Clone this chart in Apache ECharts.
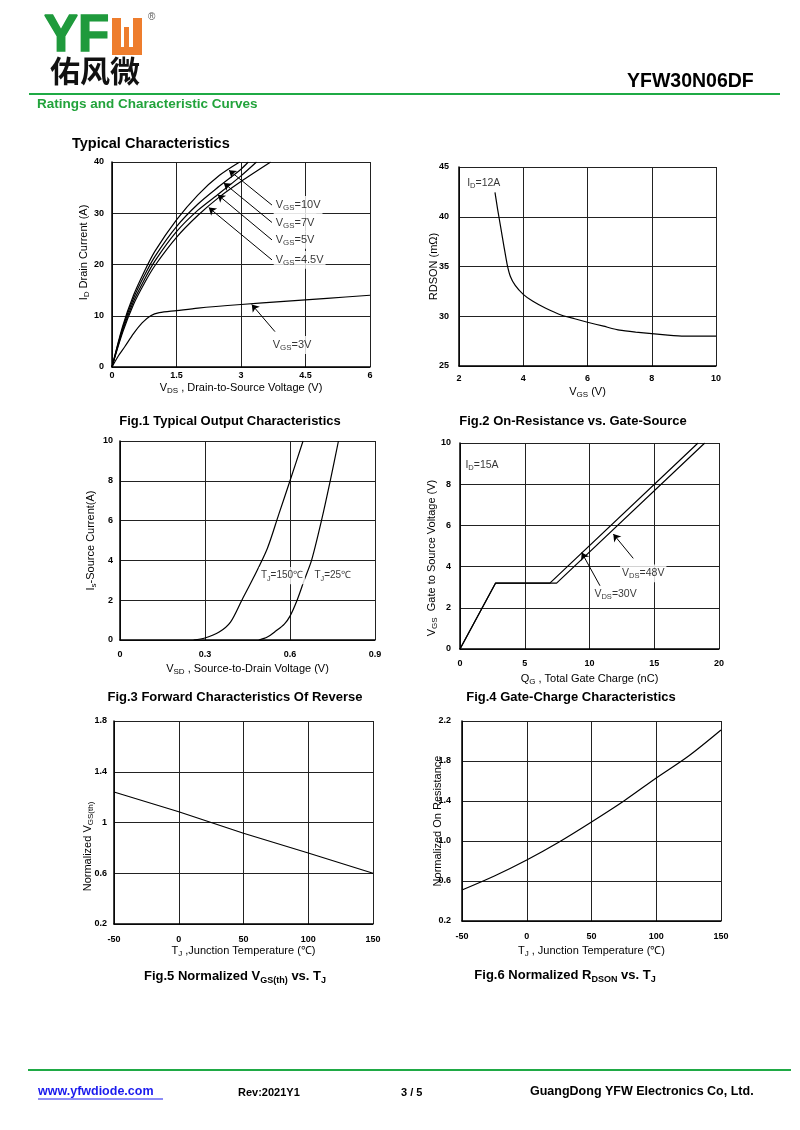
<!DOCTYPE html>
<html><head><meta charset="utf-8">
<script src="https://cdn.jsdelivr.net/npm/echarts@6/dist/echarts.min.js"></script>
<style>html,body{margin:0;padding:0;background:#fff}#c{width:800px;height:1130px}</style>
</head><body><div id="c"></div>
<script>
// ---------- Fig.1 Typical Output Characteristics (VDS [V], ID [A]) ----------
const f1Vgs10 = [[0,0],[0.25,8],[0.5,14],[0.75,18.6],[1,22.6],[1.5,28.7],[2,33.6],[2.5,37.4],[2.97,40]];
const f1Vgs7  = [[0,0],[0.25,7.6],[0.5,13.4],[0.75,17.8],[1,21.6],[1.5,27.4],[2,31.8],[2.5,35.3],[3,38.6],[3.17,40]];
const f1Vgs5  = [[0,0],[0.25,7.2],[0.5,12.8],[0.75,17],[1,20.7],[1.5,26.4],[2,30.6],[2.5,33.9],[3,37.3],[3.36,40]];
const f1Vgs45 = [[0,0],[0.25,6.8],[0.5,12.2],[0.75,16.3],[1,19.8],[1.5,25.3],[2,29.6],[2.5,33.2],[3,36.2],[3.69,40]];
const f1Vgs3  = [[0,0],[0.15,2.2],[0.3,4.0],[0.5,6.5],[0.7,8.6],[0.9,10],[1.1,10.6],[1.5,11],[2,11.5],[3,12.2],[4,12.8],[5,13.4],[6,14]];
const f1Labels = ['V{s|GS}=10V','V{s|GS}=7V','V{s|GS}=5V','V{s|GS}=4.5V','V{s|GS}=3V'];
const f1LabelPos = [[3.76,31.6],[3.76,28.2],[3.76,24.8],[3.76,20.9],[3.69,4.3]];
const f1Arrows = [[[3.72,31.6],[2.72,38.4]],[[3.72,28.2],[2.6,35.9]],[[3.72,24.8],[2.46,33.6]],[[3.72,20.9],[2.25,31.1]],[[3.79,6.9],[3.25,12.2]]];

// ---------- Fig.2 On-Resistance vs Gate-Source (VGS [V], RDSON [mΩ]) ----------
const f2Rdson = [[3.12,42.45],[3.2,40.8],[3.3,38.9],[3.4,37.0],[3.5,35.2],[3.6,34.0],[3.75,33.1],[4.0,32.2],[4.3,31.5],[4.7,30.8],[5.2,30.1],[5.6,29.75],[6,29.4],[6.5,29.0],[7,28.6],[7.5,28.4],[8,28.25],[8.5,28.1],[9,28.0],[10,28.0]];

// ---------- Fig.3 Forward Characteristics (VSD [V], IS [A]) ----------
const f3Tj150 = [[0.26,0],[0.30,0.1],[0.35,0.4],[0.39,0.9],[0.43,2.0],[0.47,3.1],[0.52,4.6],[0.56,6.3],[0.60,8.0],[0.646,10]];
const f3Tj25  = [[0.49,0],[0.52,0.15],[0.55,0.45],[0.58,0.8],[0.60,1.2],[0.625,2.0],[0.65,3.0],[0.676,4.0],[0.711,6.0],[0.742,8.0],[0.771,10]];

// ---------- Fig.4 Gate charge (QG [nC], VGS [V]) ----------
const f4Vds30 = [[0,0],[2.75,3.2],[6.94,3.2],[18.38,10]];
const f4Vds48 = [[0,0],[2.75,3.2],[7.46,3.2],[18.9,10]];
const f4Arrows = [[[13.38,4.40],[11.84,5.58]],[[10.81,3.07],[9.4,4.68]]];

// ---------- Fig.5 Normalized VGS(th) vs TJ ----------
const f5Vth = [[-50,1.24],[0,1.085],[25,1.0],[50,0.915],[100,0.76],[150,0.6]];

// ---------- Fig.6 Normalized RDSON vs TJ ----------
const f6Rds = [[-50,0.51],[-25,0.65],[0,0.81],[25,0.99],[50,1.19],[75,1.40],[100,1.63],[125,1.85],[150,2.11]];

// axis ranges [min, max, interval]
const xRanges = [[0,6,1.5],[2,10,2],[0,0.9,0.3],[0,20,5],[-50,150,50],[-50,150,50]];
const yRanges = [[0,40,10],[25,45,5],[0,10,2],[0,10,2],[0.2,1.8,0.4],[0.2,2.2,0.4]];

const FF = 'Liberation Sans, Arial, sans-serif';
const subRich = (fs) => ({ s: { fontSize: fs, fontFamily: FF, color: '#000', verticalAlign: 'bottom', lineHeight: fs + 6 } });

const grids = [
  {left:112, top:162, width:258, height:205},
  {left:459, top:167, width:257, height:199},
  {left:120, top:441, width:255, height:199},
  {left:460, top:443, width:259, height:206},
  {left:114, top:721, width:259, height:203},
  {left:462, top:721, width:259, height:200}
];
const xNames = ['V{s|DS} , Drain-to-Source Voltage (V)','V{s|GS} (V)','V{s|SD} , Source-to-Drain Voltage (V)','Q{s|G} , Total Gate Charge (nC)','T{s|J} ,Junction Temperature (℃)','T{s|J} , Junction Temperature (℃)'];
const yNames = ['I{s|D} Drain Current (A)','RDSON (mΩ)','I{s|s}-Source Current(A)','V{s|GS}  Gate to Source Voltage (V)','Normalized V{s|GS(th)}','Normalized On Resistance'];
const xLabelMargin = [4,8,10,10,11,11];
const yLabelMargin = [8,10,7,9,7,11];
const xNameGap = [14,19,22,23,20,23];
const yNameGap = [21,20,22,21,19,19];
const yNamePad = [[0,0,0,24],[0,0,0,0],[0,0,0,0],[0,24,0,0],[0,48,0,0],[0,0,0,0]];

const xAxes = xRanges.map((r,i)=>({
  type:'value', gridIndex:i, min:r[0], max:r[1], interval:r[2],
  axisLine:{show:true,onZero:false,lineStyle:{color:'#000',width:1.5}},
  axisTick:{show:false},
  splitLine:{show:true,lineStyle:{color:'#222',width:1}},
  axisLabel:{color:'#000',fontSize:9,fontWeight:'bold',fontFamily:FF,margin:xLabelMargin[i]},
  name:xNames[i], nameLocation:'middle', nameGap:xNameGap[i], nameMoveOverlap:false,
  nameTextStyle:{color:'#000',fontSize:11,fontFamily:FF,rich:subRich(8)}
}));
const yAxes = yRanges.map((r,i)=>({
  type:'value', gridIndex:i, min:r[0], max:r[1], interval:r[2],
  axisLine:{show:true,onZero:false,lineStyle:{color:'#000',width:1.5}},
  axisTick:{show:false},
  splitLine:{show:true,lineStyle:{color:'#222',width:1}},
  axisLabel:{color:'#000',fontSize:9,fontWeight:'bold',fontFamily:FF,margin:yLabelMargin[i],
    formatter: i===5 ? (v)=>v.toFixed(1) : (v)=>String(+v.toFixed(2))},
  name:yNames[i], nameLocation:'middle', nameGap:yNameGap[i], nameRotate:90, nameMoveOverlap:false,
  nameTextStyle:{color:'#000',fontSize:11,fontFamily:FF,padding:yNamePad[i],rich:subRich(8)}
}));

function curve(gi, data, smooth){
  return {type:'line', xAxisIndex:gi, yAxisIndex:gi, data:data, symbol:'none', smooth:smooth,
    lineStyle:{color:'#000',width:1.2}, silent:true, z:3};
}
function note(gi, pos, text, bg, fs){
  fs = fs || 10.5;
  return {type:'scatter', xAxisIndex:gi, yAxisIndex:gi, data:[pos], symbolSize:0.1,
    itemStyle:{color:'transparent'}, silent:true, z:6,
    label:{show:true, position:'right', distance:0, formatter:text, color:'#000', fontSize:fs, fontFamily:FF,
      backgroundColor: bg ? '#fff' : 'transparent', padding:[2,2], rich:subRich(fs*0.72)}};
}
function arrows(gi, list){
  return {type:'lines', coordinateSystem:'cartesian2d', xAxisIndex:gi, yAxisIndex:gi,
    data:list.map(c=>({coords:c})), symbol:['none','arrow'], symbolSize:[0,7],
    lineStyle:{color:'#000',width:1,opacity:1,curveness:0}, silent:true, z:7};
}

const series = [
  curve(0,f1Vgs10,0.3), curve(0,f1Vgs7,0.3), curve(0,f1Vgs5,0.3), curve(0,f1Vgs45,0.3), curve(0,f1Vgs3,0.3),
  ...f1Labels.map((t,k)=>note(0,f1LabelPos[k],t,true,11)),
  arrows(0,f1Arrows),
  curve(1,f2Rdson,0.2),
  note(1,[2.19,43.4],'I{s|D}=12A',false),
  curve(2,f3Tj150,0.3), curve(2,f3Tj25,0.3),
  note(2,[0.49,3.23],'T{s|J}=150℃',true,10), note(2,[0.679,3.23],'T{s|J}=25℃',true,10),
  curve(3,f4Vds30,false), curve(3,f4Vds48,false),
  note(3,[0.26,8.93],'I{s|D}=15A',false),
  note(3,[12.36,3.67],'V{s|DS}=48V',true), note(3,[10.22,2.67],'V{s|DS}=30V',true),
  arrows(3,f4Arrows),
  curve(4,f5Vth,false),
  curve(5,f6Rds,0.3)
];

function txt(x,y,text,size,opt){
  opt = opt||{};
  return {type:'text', x:x, y:y, z:10, silent:true, style:{
    text:text, fontSize:size, fontWeight:opt.weight||'bold', fontFamily:opt.family||FF,
    fill:opt.fill||'#000', align:opt.align||'left', textAlign:opt.align||'left',
    stroke:opt.stroke, lineWidth:opt.lw||0,
    verticalAlign:'middle', textVerticalAlign:'middle', rich:opt.rich}};
}
const capRich = {s:{fontSize:9,fontWeight:'bold',fontFamily:FF,color:'#000',verticalAlign:'bottom',lineHeight:18}};
const graphics = [
  // logo
  txt(44,37,'YF',51,{fill:'#1f9a3c',stroke:'#1f9a3c',lw:1.5}),
  {type:'rect', silent:true, shape:{x:112,y:18,width:9,height:37}, style:{fill:'#ee7d2d'}},
  {type:'rect', silent:true, shape:{x:133,y:18,width:9,height:37}, style:{fill:'#ee7d2d'}},
  {type:'rect', silent:true, shape:{x:112,y:47,width:30,height:8,r:[0,0,3,3]}, style:{fill:'#ee7d2d'}},
  {type:'rect', silent:true, shape:{x:124,y:27,width:5,height:22}, style:{fill:'#ee7d2d'}},
  txt(148,17,'®',10,{weight:'normal',fill:'#555'}),
  txt(50,71,'佑风微',30,{family:'Noto Sans CJK SC',weight:'bold',fill:'#111'}),
  txt(627,82,'YFW30N06DF',19.5),
  {type:'rect', silent:true, shape:{x:29,y:93,width:751,height:2}, style:{fill:'#1faa45'}},
  txt(37,104,'Ratings and Characteristic Curves',13.5,{fill:'#22a33b'}),
  txt(72,144,'Typical Characteristics',14.5),
  // captions
  txt(230,421,'Fig.1 Typical Output Characteristics',13,{align:'center'}),
  txt(573,421,'Fig.2 On-Resistance vs. Gate-Source',13,{align:'center'}),
  txt(235,697,'Fig.3 Forward Characteristics Of Reverse',13,{align:'center'}),
  txt(571,697,'Fig.4 Gate-Charge Characteristics',13,{align:'center'}),
  txt(235,976,'Fig.5 Normalized V{s|GS(th)} vs. T{s|J}',13,{align:'center',rich:capRich}),
  txt(565,975,'Fig.6 Normalized R{s|DSON} vs. T{s|J}',13,{align:'center',rich:capRich}),
  // footer
  {type:'rect', silent:true, shape:{x:28,y:1069,width:763,height:2}, style:{fill:'#1faa45'}},
  txt(38,1092,'www.yfwdiode.com',12.5,{fill:'#1a1aee'}),
  {type:'line', silent:true, shape:{x1:38,y1:1099,x2:163,y2:1099}, style:{stroke:'#1a1aee',lineWidth:1}},
  txt(238,1093,'Rev:2021Y1',11),
  txt(401,1093,'3 / 5',11),
  txt(530,1092,'GuangDong YFW Electronics Co, Ltd.',12.5)
];

const chart = echarts.init(document.getElementById('c'), null, {renderer:'canvas'});
chart.setOption({
  animation:false,
  backgroundColor:'#fff',
  textStyle:{fontFamily:FF},
  grid:grids, xAxis:xAxes, yAxis:yAxes, series:series, graphic:graphics
});
</script>
</body></html>
